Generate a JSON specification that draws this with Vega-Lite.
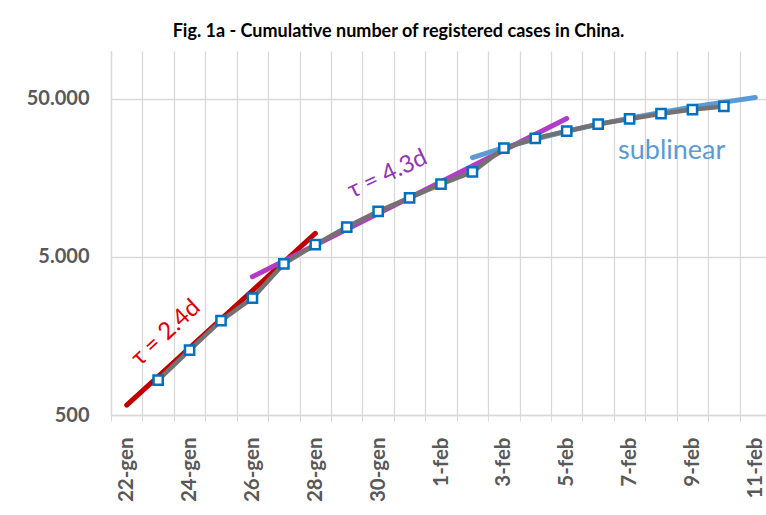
{
  "$schema": "https://vega.github.io/schema/vega-lite/v6.json",
  "width": 655,
  "height": 364,
  "autosize": {"type": "none"},
  "padding": {"left": 111, "top": 51, "right": 0, "bottom": 100},
  "background": "white",
  "config": {
    "font": "Lato",
    "view": {"stroke": null},
    "axis": {"labelFont": "Lato", "titleFont": "Lato"}
  },
  "title": {
    "text": "Fig. 1a - Cumulative number of registered cases in China.",
    "font": "Lato",
    "fontSize": 18,
    "fontWeight": "bold",
    "color": "#000000",
    "anchor": "middle",
    "baseline": "alphabetic",
    "offset": 2,
    "dy": 6,
    "dx": -40
  },
  "datasets": {
    "cases": [
      {"date": "23-gen", "day": 1, "cases": 830},
      {"date": "24-gen", "day": 2, "cases": 1287},
      {"date": "25-gen", "day": 3, "cases": 1975},
      {"date": "26-gen", "day": 4, "cases": 2744},
      {"date": "27-gen", "day": 5, "cases": 4515},
      {"date": "28-gen", "day": 6, "cases": 5974},
      {"date": "29-gen", "day": 7, "cases": 7711},
      {"date": "30-gen", "day": 8, "cases": 9692},
      {"date": "31-gen", "day": 9, "cases": 11791},
      {"date": "1-feb", "day": 10, "cases": 14380},
      {"date": "2-feb", "day": 11, "cases": 17205},
      {"date": "3-feb", "day": 12, "cases": 24324},
      {"date": "4-feb", "day": 13, "cases": 28018},
      {"date": "5-feb", "day": 14, "cases": 31161},
      {"date": "6-feb", "day": 15, "cases": 34546},
      {"date": "7-feb", "day": 16, "cases": 37198},
      {"date": "8-feb", "day": 17, "cases": 40171},
      {"date": "9-feb", "day": 18, "cases": 42638},
      {"date": "10-feb", "day": 19, "cases": 44653}
    ],
    "fits": [
      {"fit": "tau24", "day": 0, "cases": 578},
      {"fit": "tau24", "day": 6, "cases": 7025},
      {"fit": "tau43", "day": 4, "cases": 3740},
      {"fit": "tau43", "day": 14, "cases": 37400},
      {"fit": "sub", "day": 11, "cases": 21200},
      {"fit": "sub", "day": 12, "cases": 24490},
      {"fit": "sub", "day": 13, "cases": 27780},
      {"fit": "sub", "day": 14, "cases": 31070},
      {"fit": "sub", "day": 15, "cases": 34360},
      {"fit": "sub", "day": 16, "cases": 37640},
      {"fit": "sub", "day": 17, "cases": 40930},
      {"fit": "sub", "day": 18, "cases": 44220},
      {"fit": "sub", "day": 19, "cases": 47510},
      {"fit": "sub", "day": 20, "cases": 50800}
    ],
    "lab24": [{"label": "τ = 2.4d", "day": 1.25, "cases": 1650}],
    "lab43": [{"label": "τ = 4.3d", "day": 8.3, "cases": 16600}],
    "labsub": [{"label": "sublinear", "day": 17.34, "cases": 23300}]
  },
  "encoding": {
    "x": {
      "field": "day",
      "type": "quantitative",
      "scale": {"domain": [-0.5, 20.34], "nice": false, "zero": false},
      "axis": {
        "title": null,
        "values": [-0.5, 0, 0.5, 1, 1.5, 2, 2.5, 3, 3.5, 4, 4.5, 5, 5.5, 6, 6.5, 7, 7.5, 8, 8.5, 9, 9.5, 10, 10.5, 11, 11.5, 12, 12.5, 13, 13.5, 14, 14.5, 15, 15.5, 16, 16.5, 17, 17.5, 18, 18.5, 19, 19.5, 20],
        "grid": true,
        "gridColor": "#D9D9D9",
        "gridWidth": 1.3,
        "gridOpacity": {"condition": {"test": "datum.value % 1 != 0", "value": 1}, "value": 0},
        "ticks": true,
        "tickColor": "#D9D9D9",
        "tickSize": 6,
        "tickOpacity": {"condition": {"test": "datum.value % 1 != 0", "value": 1}, "value": 0},
        "domainColor": "#D9D9D9",
        "domainWidth": 1.3,
        "labelExpr": "datum.value % 2 == 0 ? ['22-gen','23-gen','24-gen','25-gen','26-gen','27-gen','28-gen','29-gen','30-gen','31-gen','1-feb','2-feb','3-feb','4-feb','5-feb','6-feb','7-feb','8-feb','9-feb','10-feb','11-feb'][datum.value] : ''",
        "labelAngle": -90,
        "labelAlign": "right",
        "labelBaseline": "middle",
        "labelPadding": 16,
        "labelFontSize": 20.5,
        "labelFontWeight": "bold",
        "labelColor": "#595959",
        "labelOverlap": false,
        "labelBound": false,
        "labelFlush": false
      }
    },
    "y": {
      "field": "cases",
      "type": "quantitative",
      "scale": {"type": "log", "domain": [500, 100000], "nice": false},
      "axis": {
        "title": null,
        "values": [500, 5000, 50000],
        "grid": true,
        "gridColor": "#D9D9D9",
        "gridWidth": 1.3,
        "ticks": false,
        "domainColor": "#D9D9D9",
        "domainWidth": 1.3,
        "labelExpr": "replace(format(datum.value, ','), ',', '.')",
        "labelPadding": 22,
        "labelFontSize": 20,
        "labelFontWeight": "bold",
        "labelColor": "#595959"
      }
    }
  },
  "layer": [
    {
      "data": {"name": "fits"},
      "mark": {"type": "line", "strokeWidth": 5, "strokeCap": "round"},
      "encoding": {
        "color": {
          "field": "fit",
          "type": "nominal",
          "scale": {"domain": ["tau24", "tau43", "sub"], "range": ["#C00000", "#B23CC6", "#5B9BD5"]},
          "legend": null
        }
      }
    },
    {
      "data": {"name": "cases"},
      "mark": {"type": "line", "color": "#767171", "strokeWidth": 4.5, "strokeCap": "round"},
      "encoding": {}
    },
    {
      "data": {"name": "cases"},
      "mark": {"type": "point", "shape": "square", "filled": true, "fill": "white", "stroke": "#0070C0", "strokeWidth": 2.5, "size": 85, "opacity": 1},
      "encoding": {}
    },
    {
      "data": {"name": "lab24"},
      "mark": {"type": "text", "angle": -43, "fontSize": 24, "color": "#E00000", "align": "center", "baseline": "middle"},
      "encoding": {"text": {"field": "label"}}
    },
    {
      "data": {"name": "lab43"},
      "mark": {"type": "text", "angle": -25, "fontSize": 24, "color": "#9035B5", "align": "center", "baseline": "middle"},
      "encoding": {"text": {"field": "label"}}
    },
    {
      "data": {"name": "labsub"},
      "mark": {"type": "text", "fontSize": 27, "color": "#5B9BD5", "align": "center", "baseline": "middle"},
      "encoding": {"text": {"field": "label"}}
    }
  ]
}
